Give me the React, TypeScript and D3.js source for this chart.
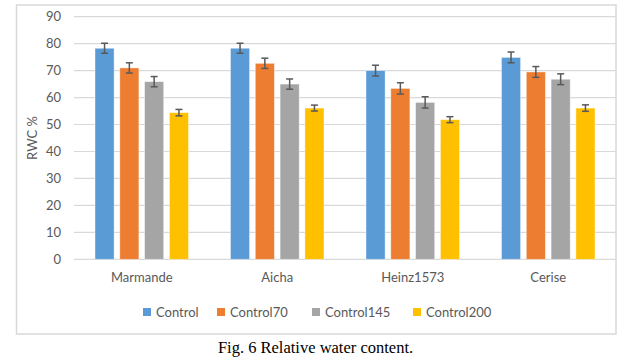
import React from "react";
import * as d3 from "d3";

const width = 642;
const height = 361;
const margin = { top: 16.7, left: 74, bottom: 101.7, right: 26 };
const iwidth = width - margin.left - margin.right;
const iheight = height - margin.top - margin.bottom;

const varieties = ["Marmande", "Aicha", "Heinz1573", "Cerise"];
const seriesNames = ["Control", "Control70", "Control145", "Control200"];
const colors = ["#5B9BD5", "#ED7D31", "#A5A5A5", "#FFC000"];
const yTicks = [0, 10, 20, 30, 40, 50, 60, 70, 80, 90];

// one array per series, in the order of varieties
const control = [78.3, 78.3, 70.0, 74.9];
const control70 = [71.0, 72.7, 63.4, 69.5];
const control145 = [65.9, 65.0, 58.2, 66.8];
const control200 = [54.4, 56.1, 51.8, 56.1];

const errControl = [1.85, 1.85, 2.0, 2.0];
const err70 = [1.9, 1.9, 2.1, 2.0];
const err145 = [1.9, 1.9, 2.1, 2.0];
const err200 = [1.2, 1.1, 1.1, 1.2];

const values = [control, control70, control145, control200];
const errors = [errControl, err70, err145, err200];

const font = "Lato, 'Open Sans', sans-serif";
const textColor = "#595959";

const App = () => {
  const x = d3.scaleBand().domain(varieties).range([0, iwidth]).paddingInner(0).paddingOuter(0);
  const xs = d3
    .scaleBand()
    .domain(seriesNames)
    .range([x.bandwidth() * 0.155, x.bandwidth() * 0.845])
    .paddingInner(0.23);
  const y = d3.scaleLinear().domain([0, 90]).range([iheight, 0]);
  const capW = 7;

  const legendX = [143, 217, 312, 413];

  return (
    <svg
      width={width}
      height={height}
      style={{ position: "absolute", left: 0, top: 0, background: "#fff" }}
    >
      <rect x={16.5} y={5} width={599.5} height={329} fill="#fff" stroke="#d9d9d9" strokeWidth={1.5} />
      <g transform={`translate(${margin.left},${margin.top})`}>
        {yTicks.map((t) => (
          <g key={t}>
            <line x1={0} x2={iwidth} y1={y(t)} y2={y(t)} stroke="#d9d9d9" strokeWidth={1.2} />
            <text
              x={-13}
              y={y(t)}
              dy="0.35em"
              textAnchor="end"
              fontFamily={font}
              fontSize={13}
              fill={textColor}
            >
              {t}
            </text>
          </g>
        ))}
        {varieties.map((v, i) => (
          <g key={v} transform={`translate(${x(v)},0)`}>
            {seriesNames.map((s, j) => {
              const val = values[j][i];
              const e = errors[j][i];
              const bx = xs(s)!;
              const cx = bx + xs.bandwidth() / 2;
              return (
                <g key={s}>
                  <rect
                    x={bx}
                    y={y(val)}
                    width={xs.bandwidth()}
                    height={iheight - y(val)}
                    fill={colors[j]}
                    stroke="#fff"
                    strokeOpacity={0.5}
                    strokeWidth={0.8}
                  />
                  <g stroke="#595959" strokeWidth={1.5}>
                    <line x1={cx} x2={cx} y1={y(val + e)} y2={y(val - e)} />
                    <line x1={cx - capW / 2} x2={cx + capW / 2} y1={y(val + e)} y2={y(val + e)} />
                    <line x1={cx - capW / 2} x2={cx + capW / 2} y1={y(val - e)} y2={y(val - e)} />
                  </g>
                </g>
              );
            })}
            <text
              x={x.bandwidth() / 2}
              y={iheight + 18}
              dy="0.35em"
              textAnchor="middle"
              fontFamily={font}
              fontSize={13}
              fill={textColor}
            >
              {v}
            </text>
          </g>
        ))}
        <text
          transform={`translate(-42,${iheight / 2}) rotate(-90)`}
          textAnchor="middle"
          dy="0.35em"
          fontFamily={font}
          fontSize={13}
          fill={textColor}
        >
          RWC %
        </text>
      </g>
      {seriesNames.map((s, j) => (
        <g key={s} transform={`translate(${legendX[j]},312)`}>
          <rect x={0} y={-4} width={8} height={8} fill={colors[j]} />
          <text x={13} y={0} dy="0.35em" fontFamily={font} fontSize={13} fill={textColor}>
            {s}
          </text>
        </g>
      ))}
      <text
        x={315.5}
        y={353}
        textAnchor="middle"
        fontFamily="'Liberation Serif', 'Times New Roman', serif"
        fontSize={16.5}
        fill="#000"
      >
        Fig. 6 Relative water content.
      </text>
    </svg>
  );
};

export default App;
